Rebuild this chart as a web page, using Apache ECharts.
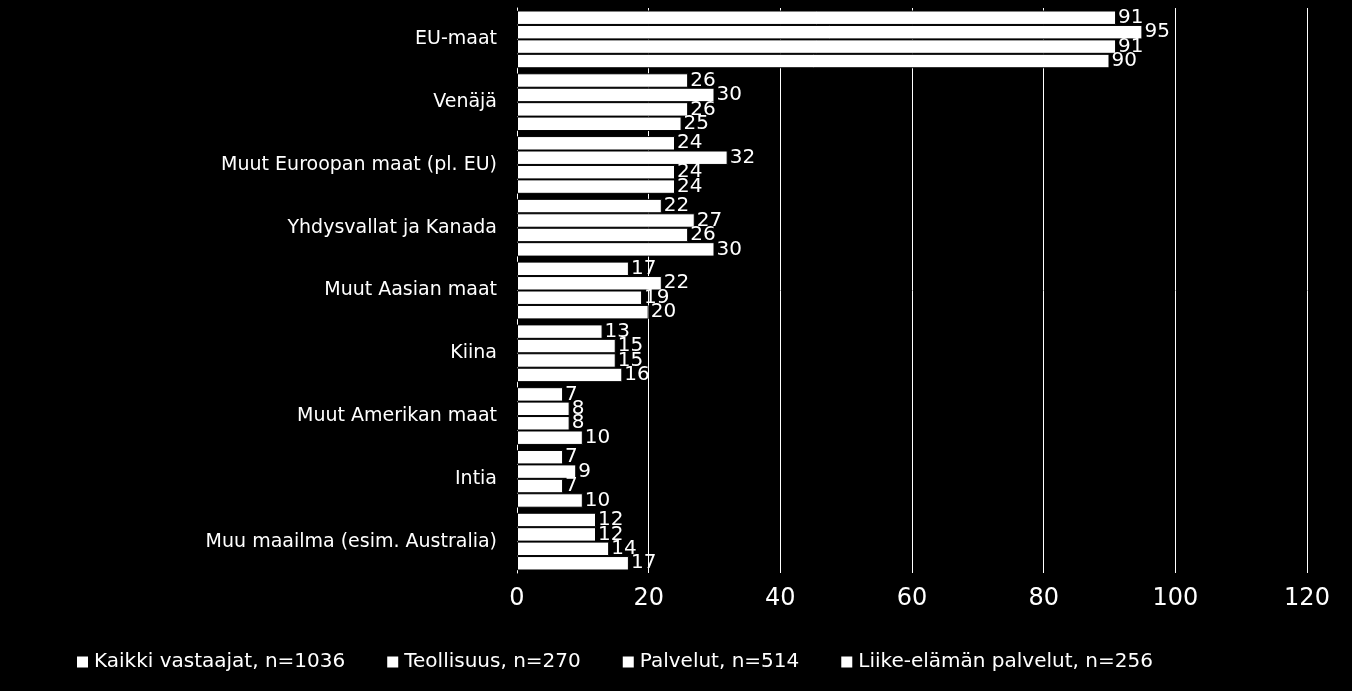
<!DOCTYPE html>
<html><head><meta charset="utf-8">
<script src="https://cdn.jsdelivr.net/npm/echarts@6/dist/echarts.min.js"></script>
<style>html,body{margin:0;background:#000}#c{width:1352px;height:691px}</style>
</head><body><div id="c"></div>
<script>
const categories = ['EU-maat','Venäjä','Muut Euroopan maat (pl. EU)','Yhdysvallat ja Kanada','Muut Aasian maat','Kiina','Muut Amerikan maat','Intia','Muu maailma (esim. Australia)'];
const seriesNames = ['Kaikki vastaajat, n=1036','Teollisuus, n=270','Palvelut, n=514','Liike-elämän palvelut, n=256'];
const kaikki = [91,26,24,22,17,13,7,7,12];
const teollisuus = [95,30,32,27,22,15,8,9,12];
const palvelut = [91,26,24,26,19,15,8,7,14];
const liike = [90,25,24,30,20,16,10,10,17];
const values = [kaikki, teollisuus, palvelut, liike];

const chart = echarts.init(document.getElementById('c'));
const font = 'DejaVu Sans';
chart.setOption({
    backgroundColor: '#000',
    textStyle: { fontFamily: font },
    grid: { left: 517, right: 45, top: 8, bottom: 118 },
    legend: {
        bottom: 14, left: 70, itemWidth: 13, itemHeight: 13, itemGap: 40,
        icon: 'rect',
        textStyle: { color: '#fff', fontSize: 20, fontFamily: font },
        data: seriesNames
    },
    xAxis: {
        type: 'value', min: 0, max: 120, interval: 20,
        axisLabel: { color: '#fff', fontSize: 24, margin: 14 },
        splitLine: { lineStyle: { color: '#fff', width: 1 } },
        axisLine: { show: false }, axisTick: { show: false }
    },
    yAxis: {
        type: 'category', inverse: true, data: categories,
        axisLabel: { color: '#fff', fontSize: 19, margin: 20 },
        axisLine: { lineStyle: { color: '#fff' } }, axisTick: { show: false }
    },
    series: values.map((d, i) => ({
        name: seriesNames[i], type: 'bar', data: d,
        barGap: '0%', barCategoryGap: '8%',
        itemStyle: { color: '#fff', borderColor: '#000', borderWidth: 1 },
        label: { show: true, position: 'right', color: '#fff', fontSize: 20, distance: 2 }
    }))
});
</script></body></html>
